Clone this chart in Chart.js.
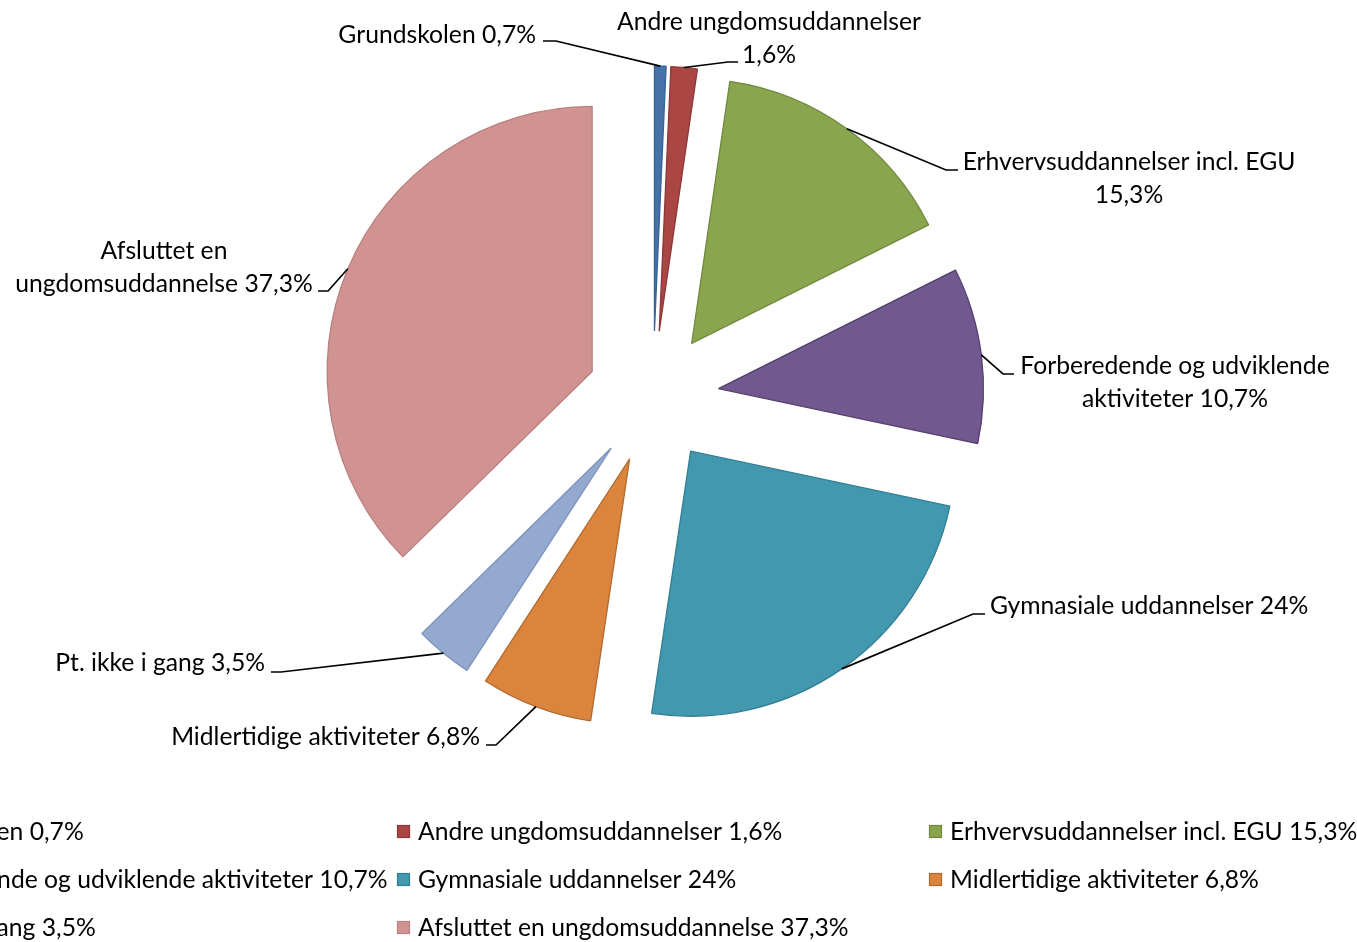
<!DOCTYPE html>
<html>
<head>
<meta charset="utf-8">
<script src="https://cdn.jsdelivr.net/npm/chart.js@4/dist/chart.umd.min.js"></script>
<style>
  html, body { margin: 0; padding: 0; background: #fff; }
  #wrap { position: relative; width: 1357px; height: 942px; overflow: hidden; }
</style>
</head>
<body>
<div id="wrap"><canvas id="pieChart"></canvas></div>
<script>
// data
var categories = ["Grundskolen", "Andre ungdomsuddannelser", "Erhvervsuddannelser incl. EGU",
    "Forberedende og udviklende aktiviteter", "Gymnasiale uddannelser", "Midlertidige aktiviteter",
    "Pt. ikke i gang", "Afsluttet en ungdomsuddannelse"];
var shares = [0.7, 1.6, 15.3, 10.7, 24, 6.8, 3.5, 37.3];

// styles
var fills = ['#4572A7', '#AA4643', '#89A54E', '#71588F', '#4198AF', '#DB843D', '#93A9CF', '#D19392'];
var borders = ['#3A6199', '#8C3836', '#71893F', '#55426C', '#327F93', '#B06A2E', '#7D93BC', '#B98080'];
var FONT = '24.7px Lato';
var EXPLODE = 66;

// label layout: text lines, anchor, alignment, leader start and elbow
var labelLayout = [
    { lines: ["Grundskolen 0,7%"], x: 536, y: 35, align: 'right', from: [543, 41], elbow: [556, 41] },
    { lines: ["Andre ungdomsuddannelser", "1,6%"], x: 769, y: 22, align: 'center', from: [738, 62], elbow: [728, 62] },
    { lines: ["Erhvervsuddannelser incl. EGU", "15,3%"], x: 1129, y: 162, align: 'center', from: [958, 170], elbow: [946, 170] },
    { lines: ["Forberedende og udviklende", "aktiviteter 10,7%"], x: 1175, y: 366, align: 'center', from: [1014, 374], elbow: [1003, 374] },
    { lines: ["Gymnasiale uddannelser 24%"], x: 990, y: 606, align: 'left', from: [985, 614], elbow: [973, 614] },
    { lines: ["Midlertidige aktiviteter 6,8%"], x: 480, y: 737, align: 'right', from: [486, 745], elbow: [496, 745] },
    { lines: ["Pt. ikke i gang 3,5%"], x: 265, y: 663, align: 'right', from: [271, 672], elbow: [281, 672] },
    { lines: ["Afsluttet en", "ungdomsuddannelse 37,3%"], x: 164, y: 251, align: 'center', from: [318, 291], elbow: [328, 291] }
];

function pct(v) {
    return String(v).replace('.', ',') + '%';
}

// exploded slices: draw each arc moved out along its middle angle
var explodePlugin = {
    id: 'explode',
    beforeDatasetsDraw: function (chart) {
        var ctx = chart.ctx;
        var meta = chart.getDatasetMeta(0);
        meta.data.forEach(function (arc) {
            var mid = (arc.startAngle + arc.endAngle) / 2;
            ctx.save();
            ctx.translate(Math.cos(mid) * EXPLODE, Math.sin(mid) * EXPLODE);
            arc.draw(ctx);
            ctx.restore();
        });
        return false;
    }
};

var labelPlugin = {
    id: 'sliceLabels',
    afterDraw: function (chart) {
        var ctx = chart.ctx;
        var meta = chart.getDatasetMeta(0);
        ctx.save();
        ctx.font = FONT;
        ctx.fillStyle = '#000';
        ctx.textBaseline = 'middle';
        meta.data.forEach(function (arc, i) {
            var lay = labelLayout[i];
            var mid = (arc.startAngle + arc.endAngle) / 2;
            var r = arc.outerRadius + EXPLODE;
            var ex = arc.x + Math.cos(mid) * r;
            var ey = arc.y + Math.sin(mid) * r;
            ctx.strokeStyle = '#000';
            ctx.lineWidth = 1.7;
            ctx.beginPath();
            ctx.moveTo(lay.from[0], lay.from[1]);
            ctx.lineTo(lay.elbow[0], lay.elbow[1]);
            ctx.lineTo(ex, ey);
            ctx.stroke();
            ctx.textAlign = lay.align;
            lay.lines.forEach(function (t, k) {
                ctx.fillText(t, lay.x, lay.y + k * 33);
            });
        });

        // legend, three columns, first one running off the left edge
        var colX = [-135, 397, 929];
        var rowY = [832, 880, 928];
        ctx.textAlign = 'left';
        categories.forEach(function (name, i) {
            var x = colX[i % 3];
            var y = rowY[Math.floor(i / 3)];
            ctx.fillStyle = fills[i];
            ctx.fillRect(x, y - 7, 13, 13);
            ctx.strokeStyle = borders[i];
            ctx.lineWidth = 1.2;
            ctx.strokeRect(x + 0.5, y - 6.5, 12, 12);
            ctx.fillStyle = '#000';
            ctx.fillText(name + ' ' + pct(shares[i]), x + 21, y);
        });
        ctx.restore();
    }
};

var ctx = document.getElementById('pieChart').getContext('2d');
var chart = new Chart(ctx, {
    type: 'pie',
    data: {
        labels: categories,
        datasets: [{
            data: shares,
            backgroundColor: fills,
            borderColor: borders,
            borderWidth: 1.3
        }]
    },
    options: {
        responsive: true,
        maintainAspectRatio: false,
        animation: false,
        radius: 265,
        layout: { padding: { left: 0, right: 51, top: 0, bottom: 148 } },
        plugins: {
            legend: { display: false },
            tooltip: { enabled: false }
        }
    },
    plugins: [explodePlugin, labelPlugin]
});
</script>
</body>
</html>
